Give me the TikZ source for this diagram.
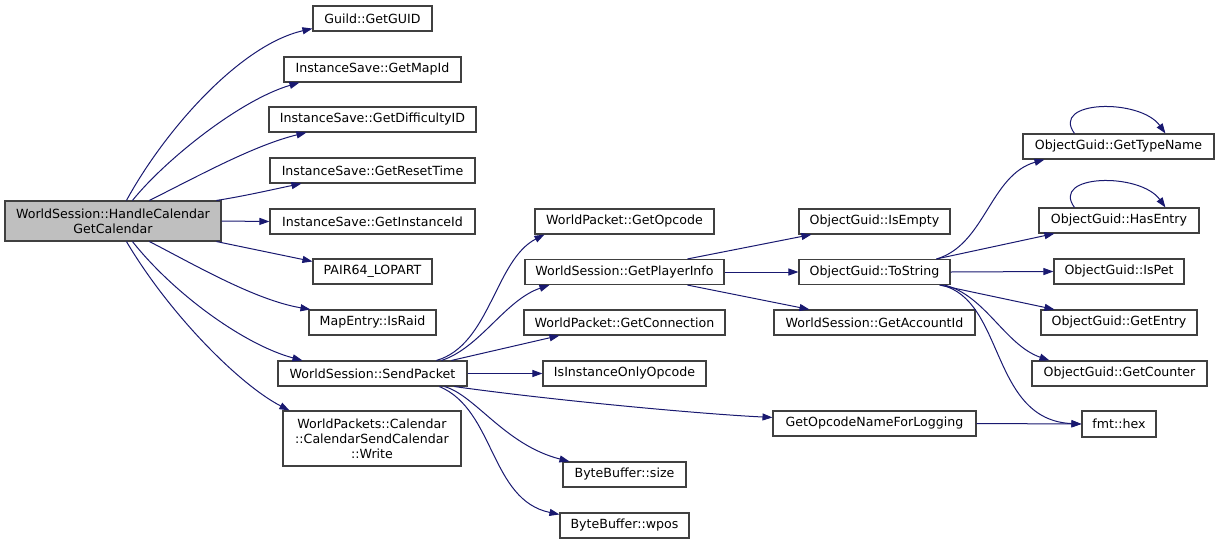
\documentclass[tikz,border=0pt]{standalone}
\usepackage{fontspec}
\setmainfont{DejaVu Sans}
\usetikzlibrary{arrows.meta,calc}
\definecolor{edgec}{HTML}{191970}
\definecolor{boxc}{HTML}{404040}
\definecolor{rootc}{HTML}{BFBFBF}
\begin{document}
\begin{tikzpicture}[x=1pt,y=-1pt,
  fn/.style={draw=boxc,line width=1.1pt,fill=white,inner sep=0pt,minimum height=25pt,
    font=\fontsize{12.6}{15}\selectfont,align=center},
  ed/.style={draw=edgec,line width=1pt,-{Triangle[length=10pt,width=7pt]}}]
\useasboundingbox (0,0) rectangle (1220,544);
% column 1
\node[fn,minimum width=216pt,minimum height=40pt,fill=rootc] (root) at (113,221) {WorldSession::HandleCalendar\\GetCalendar};
% column 2
\node[fn,minimum width=119pt] (guid) at (372.5,18.5) {Guild::GetGUID};
\node[fn,minimum width=177pt] (mapid) at (372.5,69.5) {InstanceSave::GetMapId};
\node[fn,minimum width=207pt] (diff) at (372.5,119.5) {InstanceSave::GetDifficultyID};
\node[fn,minimum width=205pt] (reset) at (372.5,170.5) {InstanceSave::GetResetTime};
\node[fn,minimum width=205pt] (inst) at (372.5,221.5) {InstanceSave::GetInstanceId};
\node[fn,minimum width=119pt] (pair) at (372.5,271.5) {PAIR64\_LOPART};
\node[fn,minimum width=127pt] (raid) at (372.5,322.5) {MapEntry::IsRaid};
\node[fn,minimum width=189pt] (send) at (372.5,373.5) {WorldSession::SendPacket};
\node[fn,minimum width=178pt,minimum height=55pt] (write) at (372,438.5) {WorldPackets::Calendar\\::CalendarSendCalendar\\::Write};
% column 3
\node[fn,minimum width=179pt] (getop) at (624.5,221.5) {WorldPacket::GetOpcode};
\node[fn,minimum width=199pt] (pinfo) at (624.5,272) {WorldSession::GetPlayerInfo};
\node[fn,minimum width=201pt] (conn) at (624.5,322.5) {WorldPacket::GetConnection};
\node[fn,minimum width=163pt] (ionly) at (624.5,373.5) {IsInstanceOnlyOpcode};
\node[fn,minimum width=123pt] (size) at (624.5,474.5) {ByteBuffer::size};
\node[fn,minimum width=129pt] (wpos) at (624.5,525.5) {ByteBuffer::wpos};
% column 4
\node[fn,minimum width=151pt] (empty) at (874.5,221.5) {ObjectGuid::IsEmpty};
\node[fn,minimum width=151pt] (tostr) at (874.5,272) {ObjectGuid::ToString};
\node[fn,minimum width=201pt] (acc) at (874.5,322.5) {WorldSession::GetAccountId};
\node[fn,minimum width=203pt] (opname) at (874.5,423.5) {GetOpcodeNameForLogging};
% column 5
\node[fn,minimum width=191pt] (gtn) at (1118.5,146.5) {ObjectGuid::GetTypeName};
\node[fn,minimum width=160pt] (hent) at (1119,220.5) {ObjectGuid::HasEntry};
\node[fn,minimum width=130pt] (ispet) at (1119,271.5) {ObjectGuid::IsPet};
\node[fn,minimum width=156pt] (gent) at (1119,322.5) {ObjectGuid::GetEntry};
\node[fn,minimum width=175pt] (gcnt) at (1119.5,373.5) {ObjectGuid::GetCounter};
\node[fn,minimum width=74pt,minimum height=26pt] (hex) at (1119,424) {fmt::hex};
% edges from root
\draw[ed] ($(root.north west)+(122,0)$) .. controls (165,130) and (240,45) .. ($(guid.south west)+(0,-3)$);
\draw[ed] ($(root.north west)+(128,0)$) .. controls (165,160) and (240,100) .. ($(mapid.south west)+(16,0)$);
\draw[ed] ($(root.north west)+(145,0)$) .. controls (200,175) and (255,145) .. ($(diff.south west)+(38,0)$);
\draw[ed] ($(root.north west)+(212,0)$) .. controls (245,196) and (275,189) .. ($(reset.south west)+(32,0)$);
\draw[ed] (root.east) -- (inst.west);
\draw[ed] ($(root.south west)+(212,0)$) -- ($(pair.north west)+(0,3)$);
\draw[ed] ($(root.south west)+(145,0)$) .. controls (195,265) and (255,300) .. ($(raid.north west)+(2,0)$);
\draw[ed] ($(root.south west)+(128,0)$) .. controls (175,295) and (245,345) .. ($(send.north west)+(25,0)$);
\draw[ed] ($(root.south west)+(122,0)$) .. controls (170,315) and (240,385) .. ($(write.north west)+(7,0)$);
% edges from SendPacket
\draw[ed] ($(send.north west)+(159,0)$) .. controls (490,345) and (495,260) .. ($(getop.south west)+(10,0)$);
\draw[ed] ($(send.north west)+(164,0)$) .. controls (480,348) and (505,300) .. ($(pinfo.south west)+(25,0)$);
\draw[ed] ($(send.north west)+(174,0)$) -- ($(conn.south west)+(36,0)$);
\draw[ed] (send.east) -- (ionly.west);
\draw[ed] ($(send.south west)+(177,0)$) .. controls (550,400) and (700,414) .. ($(opname.north west)+(0,7)$);
\draw[ed] ($(send.south west)+(167,0)$) .. controls (475,395) and (505,445) .. ($(size.north west)+(7,0)$);
\draw[ed] ($(send.south west)+(162,0)$) .. controls (495,410) and (490,500) .. ($(wpos.north west)+(0,2)$);
% edges from GetPlayerInfo
\draw[ed] ($(pinfo.north west)+(163,0)$) -- ($(empty.south west)+(13,0)$);
\draw[ed] (pinfo.east) -- (tostr.west);
\draw[ed] ($(pinfo.south west)+(163,0)$) -- ($(acc.north west)+(36,0)$);
% GetOpcodeNameForLogging
\draw[ed] (opname.east) -- (hex.west);
% edges from ToString
\draw[ed] ($(tostr.north west)+(138,0)$) .. controls (985,245) and (990,175) .. ($(gtn.south west)+(22,0)$);
\draw[ed] ($(tostr.north west)+(138,0)$) -- ($(hent.south west)+(16,0)$);
\draw[ed] (tostr.east) -- (ispet.west);
\draw[ed] ($(tostr.south west)+(141,0)$) -- ($(gent.north west)+(14,0)$);
\draw[ed] ($(tostr.south west)+(146,0)$) .. controls (985,295) and (1005,345) .. ($(gcnt.north west)+(18,0)$);
\draw[ed] ($(tostr.south west)+(143,0)$) .. controls (1005,300) and (990,420) .. (hex.west);
% self loops
\draw[ed] ($(gtn.north west)+(52,0)$) .. controls (1050,100) and (1140,98) .. ($(gtn.north west)+(143,0)$);
\draw[ed] ($(hent.north west)+(36,0)$) .. controls (1050,174) and (1140,172) .. ($(hent.north west)+(127,0)$);
\end{tikzpicture}
\end{document}
